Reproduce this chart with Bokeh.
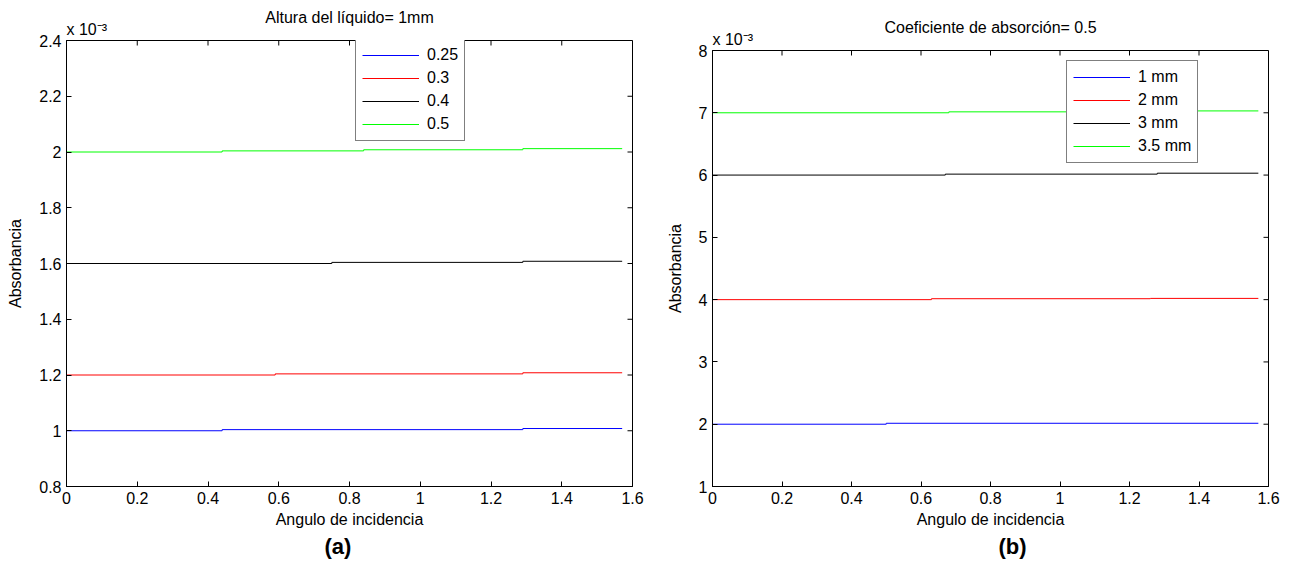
import math
from bokeh.plotting import figure
from bokeh.layouts import row
from bokeh.models import FixedTicker, Range1d, Title, Legend, LegendItem
from bokeh.embed import file_html
from bokeh.resources import INLINE

FONT = "Liberation Sans"

# ---------------- data ----------------
x_ticks = [0, 0.2, 0.4, 0.6, 0.8, 1.0, 1.2, 1.4, 1.6]
x_tick_labels = ["0", "0.2", "0.4", "0.6", "0.8", "1", "1.2", "1.4", "1.6"]
ya_ticks = [0.8, 1.0, 1.2, 1.4, 1.6, 1.8, 2.0, 2.2, 2.4]
ya_tick_labels = ["0.8", "1", "1.2", "1.4", "1.6", "1.8", "2", "2.2", "2.4"]
yb_ticks = [1, 2, 3, 4, 5, 6, 7, 8]
yb_tick_labels = ["1", "2", "3", "4", "5", "6", "7", "8"]
y_scale_note = "x 10⁻³"

x_end = 1.5708  # pi/2, last angle

# (a) Altura del liquido = 1 mm  (values x 10^-3)
a_names = ["0.25", "0.3", "0.4", "0.5"]
a_steps_025 = [0, 0.44, 1.29]
a_levels_025 = [1.000, 1.004, 1.008]
a_steps_03 = [0, 0.59, 1.29]
a_levels_03 = [1.200, 1.204, 1.208]
a_steps_04 = [0, 0.75, 1.29]
a_levels_04 = [1.600, 1.604, 1.608]
a_steps_05 = [0, 0.44, 0.84, 1.29]
a_levels_05 = [2.000, 2.004, 2.008, 2.012]

# (b) Coeficiente de absorcion = 0.5  (values x 10^-3)
b_names = ["1 mm", "2 mm", "3 mm", "3.5 mm"]
b_steps_1 = [0, 0.50]
b_levels_1 = [2.000, 2.015]
b_steps_2 = [0, 0.63, 1.26]
b_levels_2 = [4.000, 4.015, 4.020]
b_steps_3 = [0, 0.67, 1.28]
b_levels_3 = [6.000, 6.015, 6.030]
b_steps_35 = [0, 0.68, 1.30]
b_levels_35 = [7.000, 7.015, 7.030]

colors = ["#0000ff", "#ff0000", "#000000", "#00ff00"]


def step_path(steps, levels):
    xs, ys = [], []
    for i, (s, lv) in enumerate(zip(steps, levels)):
        if i > 0:
            xs.append(s)
            ys.append(levels[i - 1])
        xs.append(s)
        ys.append(lv)
    xs.append(x_end)
    ys.append(levels[-1])
    return xs, ys


def style_axis(ax):
    ax.axis_line_color = "black"
    ax.axis_line_width = 1
    ax.major_tick_line_color = "black"
    ax.major_tick_in = 5
    ax.major_tick_out = 0
    ax.minor_tick_line_color = None
    ax.major_label_text_font = FONT
    ax.major_label_text_color = "black"
    ax.major_label_text_font_size = "16px"
    ax.major_label_standoff = 5
    ax.axis_label_text_font = FONT
    ax.axis_label_text_font_size = "16px"
    ax.axis_label_text_font_style = "normal"
    ax.axis_label_text_color = "black"


def make_panel(title, yr, yticks, ylabels, steps, levels, names, legend_xy,
               sublabel, sub_off, width, height, borders):
    bl, br, bt, bb = borders
    p = figure(width=width, height=height, x_range=Range1d(0, 1.6),
               y_range=Range1d(yr[0], yr[1]), output_backend="svg",
               toolbar_location=None, min_border_left=bl, min_border_right=br,
               min_border_top=bt, min_border_bottom=bb, title=None)
    p.background_fill_color = "white"
    p.border_fill_color = "white"
    p.outline_line_color = "black"
    p.xgrid.visible = False
    p.ygrid.visible = False

    # closest to the frame: the "x 10^-3" factor, then the title above it
    p.add_layout(Title(text=y_scale_note, align="left", text_font=FONT,
                       text_font_size="16px", text_font_style="normal",
                       text_color="black", standoff=5), "above")
    p.add_layout(Title(text=title, align="center", text_font=FONT,
                       text_font_size="16px", text_font_style="normal",
                       text_color="black", standoff=-18), "above")

    xa = p.xaxis[0]
    xa.ticker = FixedTicker(ticks=x_ticks)
    xa.major_label_overrides = {t: l for t, l in zip(x_ticks, x_tick_labels)}
    xa.axis_label = "Angulo de incidencia"
    style_axis(xa)
    xa.axis_label_standoff = 4

    ya = p.yaxis[0]
    ya.ticker = FixedTicker(ticks=yticks)
    ya.major_label_overrides = {t: l for t, l in zip(yticks, ylabels)}
    ya.axis_label = "Absorbancia"
    style_axis(ya)
    ya.axis_label_standoff = 12

    # inward ticks on the top and right edges of the box
    p.ray(x=x_ticks, y=[yr[1]] * len(x_ticks), length=5, length_units="screen",
          angle=-math.pi / 2, line_color="black", line_width=1)
    p.ray(x=[1.6] * len(yticks), y=yticks, length=5, length_units="screen",
          angle=math.pi, line_color="black", line_width=1)

    items = []
    for s, lv, c, n in zip(steps, levels, colors, names):
        xs, ys = step_path(s, lv)
        r = p.line(xs, ys, line_color=c, line_width=1)
        items.append(LegendItem(label=n, renderers=[r]))

    lg = Legend(items=items, location=legend_xy)
    lg.border_line_color = "black"
    lg.border_line_width = 1
    lg.background_fill_color = "white"
    lg.background_fill_alpha = 1
    lg.label_text_font = FONT
    lg.label_text_font_size = "16px"
    lg.label_text_color = "black"
    lg.glyph_width = 57
    lg.glyph_height = 20
    lg.label_height = 20
    lg.spacing = 3
    lg.padding = 6
    lg.margin = 0
    lg.label_standoff = 8
    p.add_layout(lg)

    sub = Title(text=sublabel, align="left", text_font=FONT, text_font_size="22px",
                text_font_style="bold", text_color="black", standoff=2, offset=sub_off)
    p.add_layout(sub, "below")
    return p


# both figures share top border 50 / bottom border 90; the left one is
# 10 px taller and lifted 10 px so its frame spans 40..486
pa = make_panel("Altura del líquido= 1mm", (0.8, 2.4), ya_ticks, ya_tick_labels,
                [a_steps_025, a_steps_03, a_steps_04, a_steps_05],
                [a_levels_025, a_levels_03, a_levels_04, a_levels_05],
                a_names, (289, 345), "(a)", 258, 645, 586, (66, 13, 50, 90))
pa.margin = (-10, 0, 0, 0)

pb = make_panel("Coeficiente de absorción= 0.5", (1, 8), yb_ticks, yb_tick_labels,
                [b_steps_1, b_steps_2, b_steps_3, b_steps_35],
                [b_levels_1, b_levels_2, b_levels_3, b_levels_35],
                b_names, (354, 323), "(b)", 286, 646, 576, (67, 23, 50, 90))

layout = row(pa, pb)
open("out.html", "w").write(file_html(layout, INLINE))
